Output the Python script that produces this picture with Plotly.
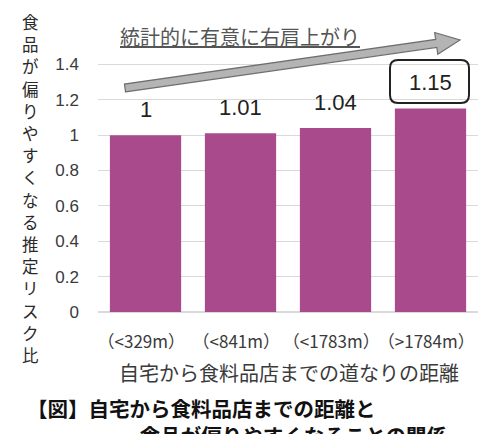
import plotly.graph_objects as go
import math

categories = ["（<329m）", "（<841m）", "（<1783m）", "（>1784m）"]
risk_ratio = [1.00, 1.01, 1.04, 1.15]
value_labels = ["1", "1.01", "1.04", "1.15"]
y_ticks = [0, 0.2, 0.4, 0.6, 0.8, 1.0, 1.2, 1.4]
y_ticktext = ["0", "0.2", "0.4", "0.6", "0.8", "1", "1.2", "1.4"]

y_title = "食品が偏りやすくなる推定リスク比"
x_title = "自宅から食料品店までの道なりの距離"
trend_text = "統計的に有意に右肩上がり"
caption1 = "【図】自宅から食料品店までの距離と"
caption2 = "食品が偏りやすくなることの関係"

FONT = "Liberation Sans, Noto Sans CJK JP, sans-serif"
CJK = "Noto Sans CJK JP, sans-serif"
BAR = "#A84A8C"
TXT = "#3A3A3A"

W, H = 484, 434
ML, MR, MT, MB = 98, 6, 29, 122
pw, ph = W - ML - MR, H - MT - MB


def px(x):
    return (x - ML) / pw


def py(y):
    return (H - MB - y) / ph


fig = go.Figure()
fig.add_trace(go.Bar(
    x=categories, y=risk_ratio, marker=dict(color=BAR, line=dict(width=0)),
    hoverinfo="skip", showlegend=False,
))

annotations = []
for i, (c, v, t) in enumerate(zip(categories, risk_ratio, value_labels)):
    annotations.append(dict(
        x=c, y=v, xref="x", yref="y", text=t, showarrow=False,
        yanchor="bottom", yshift=11 if i < 3 else 12,
        font=dict(family=FONT, size=22, color="#222222"),
    ))

# vertical y-axis title, one glyph per row
for i, ch in enumerate(y_title):
    annotations.append(dict(
        x=px(30), y=py(22 + i * 22.2), xref="paper", yref="paper",
        text=ch, showarrow=False, xanchor="center", yanchor="middle",
        borderpad=0,
        font=dict(family=CJK, size=16.5, color="#2A2A2A"),
    ))
annotations.append(dict(
    x=px(289), y=py(372), xref="paper", yref="paper", text=x_title,
    showarrow=False, xanchor="center", yanchor="middle",
    font=dict(family=CJK, size=20, color=TXT),
))
annotations.append(dict(
    x=px(26), y=py(392), xref="paper", yref="paper",
    text="<b>" + caption1 + "<br>" + "\u3000" * 5 + "\u2002" + caption2 + "</b>",
    showarrow=False, xanchor="left", yanchor="top", align="left", borderpad=0,
    font=dict(family=CJK, size=20.5, color="#111111"),
))
annotations.append(dict(
    x=px(240), y=py(37), xref="paper", yref="paper", text="<u>" + trend_text + "</u>",
    showarrow=False, xanchor="center", yanchor="middle",
    font=dict(family=CJK, size=20, color="#555555"),
))

# block arrow
x0, y0, x1, y1 = 125, 88, 460, 40
dx, dy = x1 - x0, y1 - y0
L = math.hypot(dx, dy)
ux, uy = dx / L, dy / L
nx, ny = -uy, ux
hw, headw, headl = 4, 11, 24
bx, by = x1 - ux * headl, y1 - uy * headl
pts = [
    (x0 + nx * hw, y0 + ny * hw), (bx + nx * hw, by + ny * hw),
    (bx + nx * headw, by + ny * headw), (x1, y1),
    (bx - nx * headw, by - ny * headw), (bx - nx * hw, by - ny * hw),
    (x0 - nx * hw, y0 - ny * hw),
]
path = "M " + " L ".join(f"{px(a):.5f},{py(b):.5f}" for a, b in pts) + " Z"

shapes = [dict(type="path", xref="paper", yref="paper", path=path,
               fillcolor="#B4B4B4", line=dict(color="#6E6E6E", width=1.2))]

# rounded box around last label
bx0, by0, bx1, by1, r = 390, 60, 469, 103, 8
rp = (f"M {px(bx0+r)},{py(by0)} L {px(bx1-r)},{py(by0)} Q {px(bx1)},{py(by0)} {px(bx1)},{py(by0+r)} "
      f"L {px(bx1)},{py(by1-r)} Q {px(bx1)},{py(by1)} {px(bx1-r)},{py(by1)} "
      f"L {px(bx0+r)},{py(by1)} Q {px(bx0)},{py(by1)} {px(bx0)},{py(by1-r)} "
      f"L {px(bx0)},{py(by0+r)} Q {px(bx0)},{py(by0)} {px(bx0+r)},{py(by0)} Z")
shapes.append(dict(type="path", xref="paper", yref="paper", path=rp,
                   line=dict(color="#222222", width=2)))

fig.update_layout(
    width=W, height=H, margin=dict(l=ML, r=MR, t=MT, b=MB, autoexpand=False),
    paper_bgcolor="white", plot_bgcolor="white", bargap=0.25,
    font=dict(family=FONT, color=TXT),
    annotations=annotations, shapes=shapes,
    xaxis=dict(tickfont=dict(family=CJK, size=17, color=TXT), showgrid=False,
               tickvals=categories, ticktext=[c + "\u3000" for c in categories],
               showline=True, linecolor="#D9D9D9", linewidth=1, tickangle=0,
               automargin=False,
               ticks="", ticklabelstandoff=15, fixedrange=True),
    yaxis=dict(range=[0, 1.6], tickvals=y_ticks, ticktext=y_ticktext,
               tickfont=dict(family=FONT, size=17, color=TXT),
               showgrid=True, gridcolor="#D9D9D9", gridwidth=1, automargin=False,
               zeroline=True, zerolinecolor="#D9D9D9", ticks="",
               ticklabelstandoff=18, fixedrange=True),
)

fig.write_html("out.html", config={"displayModeBar": False},
               post_script="document.body.style.margin='0';")
